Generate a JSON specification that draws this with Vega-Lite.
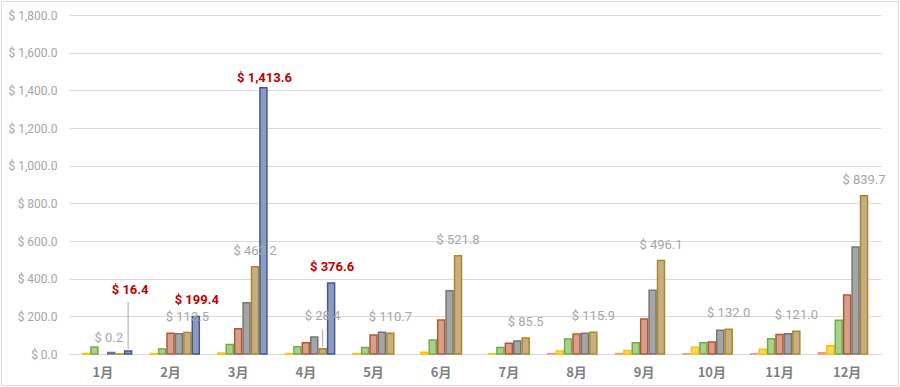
{
  "$schema": "https://vega.github.io/schema/vega-lite/v6.json",
  "width": 897,
  "height": 384,
  "autosize": {"type": "none"},
  "padding": {"left": 1, "top": 1, "right": 2, "bottom": 2},
  "background": "white",
  "config": {
    "view": {"stroke": "#D9D9D9", "strokeWidth": 1},
    "locale": {"number": {"decimal": ".", "thousands": ",", "grouping": [3], "currency": ["$ ", ""]}},
    "font": "Roboto"
  },
  "data": {
    "values": [
      {"month": "1月", "series": "2019", "value": 3},
      {"month": "1月", "series": "2020", "value": 37},
      {"month": "1月", "series": "2022", "value": 8},
      {"month": "1月", "series": "2023", "value": 0.2},
      {"month": "1月", "series": "2024", "value": 16.4},
      {"month": "2月", "series": "2019", "value": 2},
      {"month": "2月", "series": "2020", "value": 27},
      {"month": "2月", "series": "2021", "value": 110},
      {"month": "2月", "series": "2022", "value": 107},
      {"month": "2月", "series": "2023", "value": 113.5},
      {"month": "2月", "series": "2024", "value": 199.4},
      {"month": "3月", "series": "2019", "value": 5},
      {"month": "3月", "series": "2020", "value": 51},
      {"month": "3月", "series": "2021", "value": 134},
      {"month": "3月", "series": "2022", "value": 272},
      {"month": "3月", "series": "2023", "value": 463.2},
      {"month": "3月", "series": "2024", "value": 1413.6},
      {"month": "4月", "series": "2019", "value": 2},
      {"month": "4月", "series": "2020", "value": 39},
      {"month": "4月", "series": "2021", "value": 60},
      {"month": "4月", "series": "2022", "value": 90},
      {"month": "4月", "series": "2023", "value": 28.4},
      {"month": "4月", "series": "2024", "value": 376.6},
      {"month": "5月", "series": "2019", "value": 2},
      {"month": "5月", "series": "2020", "value": 34},
      {"month": "5月", "series": "2021", "value": 101},
      {"month": "5月", "series": "2022", "value": 115},
      {"month": "5月", "series": "2023", "value": 110.7},
      {"month": "6月", "series": "2019", "value": 9},
      {"month": "6月", "series": "2020", "value": 74},
      {"month": "6月", "series": "2021", "value": 180},
      {"month": "6月", "series": "2022", "value": 336},
      {"month": "6月", "series": "2023", "value": 521.8},
      {"month": "7月", "series": "2019", "value": 1},
      {"month": "7月", "series": "2020", "value": 35},
      {"month": "7月", "series": "2021", "value": 57},
      {"month": "7月", "series": "2022", "value": 69},
      {"month": "7月", "series": "2023", "value": 85.5},
      {"month": "8月", "series": "2018", "value": 2},
      {"month": "8月", "series": "2019", "value": 16},
      {"month": "8月", "series": "2020", "value": 80},
      {"month": "8月", "series": "2021", "value": 106},
      {"month": "8月", "series": "2022", "value": 110},
      {"month": "8月", "series": "2023", "value": 115.9},
      {"month": "9月", "series": "2018", "value": 2},
      {"month": "9月", "series": "2019", "value": 18},
      {"month": "9月", "series": "2020", "value": 60},
      {"month": "9月", "series": "2021", "value": 186},
      {"month": "9月", "series": "2022", "value": 338},
      {"month": "9月", "series": "2023", "value": 496.1},
      {"month": "10月", "series": "2018", "value": 1},
      {"month": "10月", "series": "2019", "value": 36},
      {"month": "10月", "series": "2020", "value": 60},
      {"month": "10月", "series": "2021", "value": 64},
      {"month": "10月", "series": "2022", "value": 126},
      {"month": "10月", "series": "2023", "value": 132.0},
      {"month": "11月", "series": "2018", "value": 1},
      {"month": "11月", "series": "2019", "value": 25},
      {"month": "11月", "series": "2020", "value": 81},
      {"month": "11月", "series": "2021", "value": 104},
      {"month": "11月", "series": "2022", "value": 108},
      {"month": "11月", "series": "2023", "value": 121.0},
      {"month": "12月", "series": "2018", "value": 7},
      {"month": "12月", "series": "2019", "value": 44},
      {"month": "12月", "series": "2020", "value": 179},
      {"month": "12月", "series": "2021", "value": 313},
      {"month": "12月", "series": "2022", "value": 568},
      {"month": "12月", "series": "2023", "value": 839.7}
    ]
  },
  "encoding": {
    "x": {
      "field": "month",
      "type": "nominal",
      "sort": ["1月", "2月", "3月", "4月", "5月", "6月", "7月", "8月", "9月", "10月", "11月", "12月"],
      "scale": {"range": [68, 880], "paddingInner": 0, "paddingOuter": 0},
      "axis": {
        "title": null,
        "offset": -31,
        "domainColor": "#D9D9D9",
        "domainWidth": 1,
        "ticks": false,
        "tickSize": 0,
        "labelPadding": 12,
        "labelColor": "#7F7F7F",
        "labelFontSize": 13,
        "labelFontWeight": "bold",
        "labelFont": "Noto Sans CJK SC",
        "labelAngle": 0,
        "grid": false
      }
    },
    "xOffset": {
      "field": "series",
      "type": "nominal",
      "sort": ["2018", "2019", "2020", "2021", "2022", "2023", "2024"],
      "scale": {"domain": ["2018", "2019", "2020", "2021", "2022", "2023", "2024"], "paddingInner": 0.17, "paddingOuter": 0.6}
    },
    "y": {
      "field": "value",
      "type": "quantitative",
      "scale": {"domain": [0, 1800], "range": [353, 14], "nice": false, "zero": true},
      "axis": {
        "title": null,
        "values": [0, 200, 400, 600, 800, 1000, 1200, 1400, 1600, 1800],
        "format": "$,.1f",
        "offset": -67,
        "domain": false,
        "ticks": false,
        "tickSize": 0,
        "labelPadding": 11,
        "labelColor": "#A6A6A6",
        "labelFontSize": 12,
        "labelFont": "Roboto",
        "gridColor": "#D9D9D9",
        "gridWidth": 1
      }
    }
  },
  "layer": [
    {
      "mark": {"type": "bar", "strokeWidth": 1.5},
      "encoding": {
        "fill": {
          "field": "series",
          "type": "nominal",
          "scale": {"domain": ["2018", "2019", "2020", "2021", "2022", "2023", "2024"], "range": ["#F8CBAD", "#FFD966", "#A9D08E", "#D7A08E", "#A5A5A5", "#C9AD84", "#8E9BBE"]},
          "legend": null
        },
        "stroke": {
          "field": "series",
          "type": "nominal",
          "scale": {"domain": ["2018", "2019", "2020", "2021", "2022", "2023", "2024"], "range": ["#F19C74", "#FFC000", "#70AD47", "#B4582C", "#767676", "#A98A26", "#3F5A96"]},
          "legend": null
        }
      }
    },
    {
      "transform": [{"filter": "datum.series == '2023'"}],
      "mark": {
        "type": "text",
        "font": "Roboto",
        "fontSize": 13,
        "color": "#A6A6A6",
        "baseline": "middle",
        "dy": {"expr": "datum.month == '4月' ? -33 : -16"},
        "dx": {"expr": "datum.month == '1月' ? -11 : 0"}
      },
      "encoding": {"text": {"field": "value", "type": "quantitative", "format": "$,.1f"}}
    },
    {
      "transform": [{"filter": "datum.series == '2024'"}],
      "mark": {
        "type": "text",
        "font": "Roboto",
        "fontSize": 13,
        "fontWeight": "bold",
        "color": "#C00000",
        "baseline": "middle",
        "dy": {"expr": "datum.month == '1月' ? -61 : (datum.month == '3月' ? -10 : -16)"},
        "dx": {"expr": "datum.month == '1月' ? 2 : 1"}
      },
      "encoding": {"text": {"field": "value", "type": "quantitative", "format": "$,.1f"}}
    },
    {
      "transform": [{"filter": "(datum.month == '1月' && datum.series == '2024') || (datum.month == '4月' && datum.series == '2023')"}],
      "mark": {
        "type": "rule",
        "color": "#A6A6A6",
        "strokeWidth": 1,
        "yOffset": -2,
        "y2Offset": {"expr": "datum.month == '1月' ? -49 : -19"}
      },
      "encoding": {
        "y2": {"field": "value"}
      }
    }
  ]
}
